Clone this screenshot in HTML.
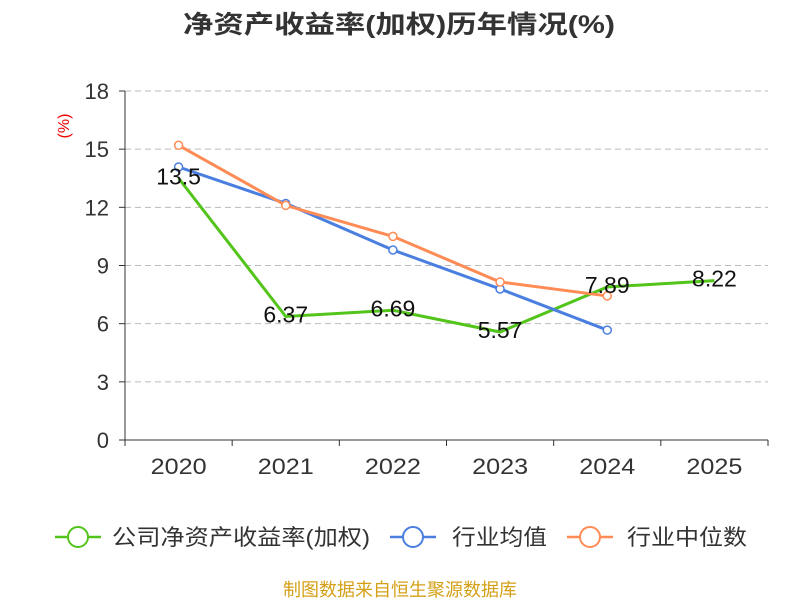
<!DOCTYPE html>
<html><head><meta charset="utf-8"><style>
body{margin:0;background:#fff;}
svg text{font-family:"Liberation Sans","Noto Sans CJK SC",sans-serif;}
</style></head><body>
<svg width="800" height="600" xmlns="http://www.w3.org/2000/svg" id="chart">
<text x="183" y="33" textLength="432" lengthAdjust="spacingAndGlyphs" font-size="25" font-weight="bold" fill="#333">净资产收益率(加权)历年情况(%)</text>
<text transform="translate(69,126) rotate(-90)" text-anchor="middle" font-size="16" fill="#e00">(%)</text>
<g id="grid"></g><g id="axes"></g><g id="series"></g>
<g font-size="22" fill="#333">
 <g><line x1="55" y1="537" x2="101" y2="537" stroke="#52c41a" stroke-width="2.5"/><circle cx="78" cy="537" r="10" fill="#fff" stroke="#52c41a" stroke-width="2"/><text x="112" y="545" textLength="258" lengthAdjust="spacingAndGlyphs">公司净资产收益率(加权)</text></g>
 <g><line x1="390" y1="537" x2="436" y2="537" stroke="#4a7fe0" stroke-width="2.5"/><circle cx="413" cy="537" r="10" fill="#fff" stroke="#4a7fe0" stroke-width="2"/><text x="452" y="545" textLength="95" lengthAdjust="spacingAndGlyphs">行业均值</text></g>
 <g><line x1="567" y1="537" x2="613" y2="537" stroke="#ff8c55" stroke-width="2.5"/><circle cx="590" cy="537" r="10" fill="#fff" stroke="#ff8c55" stroke-width="2"/><text x="627" y="545" textLength="120" lengthAdjust="spacingAndGlyphs">行业中位数</text></g>
</g>
<text x="283" y="596" textLength="234" lengthAdjust="spacingAndGlyphs" font-size="18" fill="#d4a017">制图数据来自恒生聚源数据库</text>
</svg>
<script>
const categories=["2020","2021","2022","2023","2024","2025"];
const companyValues=[13.5,6.37,6.69,5.57,7.89,8.22];
const avgValues=[14.08,12.2,9.8,7.79,5.67];
const medianValues=[15.2,12.1,10.5,8.15,7.43];
const yTicks=[0,3,6,9,12,15,18];
const NS="http://www.w3.org/2000/svg";
const x0=125,x1=768,y0=440,y1=91,yMax=18;
const band=(x1-x0)/categories.length;
const xs=i=>x0+band*(i+0.5);
const ys=v=>y0-(v/yMax)*(y0-y1);
function mk(t,a,p){const e=document.createElementNS(NS,t);for(const k in a)e.setAttribute(k,a[k]);p.appendChild(e);return e;}
const grid=document.getElementById('grid'),axes=document.getElementById('axes'),ser=document.getElementById('series');
yTicks.forEach(v=>{
 if(v>0){const g=mk('line',{x1:x0,x2:x1,y1:ys(v),y2:ys(v),stroke:'#bbb','stroke-dasharray':'6,4'},grid);
 
 }
 const t=mk('text',{x:x0-16,y:ys(v)+8,'text-anchor':'end','font-size':22,fill:'#333'},axes);t.textContent=v;
 
 
 mk('line',{x1:x0-6,x2:x0,y1:ys(v),y2:ys(v),stroke:'#333'},axes);
});
const ya=mk('line',{x1:x0,x2:x0,y1:y1,y2:y0,stroke:'#333'},axes);


const xa=mk('line',{x1:x0,x2:x1,y1:y0,y2:y0,stroke:'#333'},axes);


for(let i=0;i<=categories.length;i++)mk('line',{x1:x0+band*i,x2:x0+band*i,y1:y0,y2:y0+6,stroke:'#333'},axes);
categories.forEach((c,i)=>{const t=mk('text',{x:xs(i)-28,y:y0+34,textLength:56,lengthAdjust:'spacingAndGlyphs','font-size':22,fill:'#333'},axes);t.textContent=c;
 
 });
function line(vals,color,name,markers,labels){
 const p=mk('polyline',{points:vals.map((v,i)=>xs(i)+','+ys(v)).join(' '),fill:'none',stroke:color,'stroke-width':3},ser);
 
 
 vals.forEach((v,i)=>{
  if(markers){const c=mk('circle',{cx:xs(i),cy:ys(v),r:4,fill:'#fff',stroke:color,'stroke-width':1.5},ser);
  
  }
  if(labels){const t=mk('text',{x:xs(i),y:ys(v)+6,'text-anchor':'middle','font-size':23,fill:'#111'},ser);t.textContent=v;
  
  }
 });
}
line(companyValues,'#52c41a','company',false,false);
line(avgValues,'#4a7fe0','industry-avg',true,false);
line(medianValues,'#ff8c55','industry-median',true,false);
line(companyValues,'none','company',false,true);
</script>
</body></html>
